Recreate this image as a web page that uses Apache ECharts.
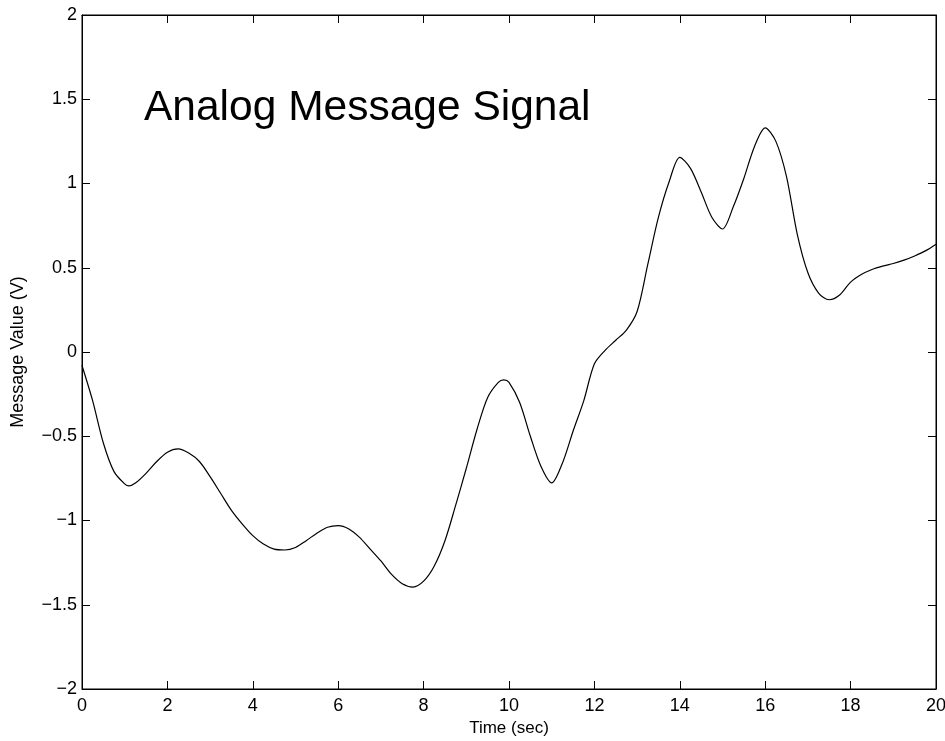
<!DOCTYPE html>
<html>
<head>
<meta charset="utf-8">
<script src="https://cdn.jsdelivr.net/npm/echarts@6/dist/echarts.min.js"></script>
<style>
html,body{margin:0;padding:0;background:#fff;overflow:hidden;}
#chart{width:945px;height:741px;}
</style>
</head>
<body>
<div id="chart"></div>
<script>
var titleText = "Analog Message Signal";
var xAxisName = "Time (sec)";
var yAxisName = "Message Value (V)";

var timeSec = [0,0.25,0.5,0.75,1,1.1,1.25,1.5,1.75,2,2.25,2.5,2.75,3,3.25,3.5,3.75,4,4.25,4.5,4.75,
  5,5.25,5.5,5.75,6,6.25,6.5,6.75,7,7.25,7.5,7.75,8,8.25,8.5,8.75,9,9.25,9.5,9.75,9.88,
  10,10.25,10.5,10.75,11,11.25,11.5,11.75,12,12.25,12.5,12.75,13,13.25,13.5,13.75,14,14.25,14.5,14.75,
  15,15.25,15.5,15.75,16,16.25,16.5,16.75,17,17.25,17.5,17.75,18,18.25,18.5,18.75,19,19.25,19.5,19.75,20];
var messageV = [-0.08,-0.29,-0.54,-0.71,-0.783,-0.795,-0.778,-0.72,-0.65,-0.595,-0.575,-0.60,-0.65,-0.74,-0.84,-0.94,-1.02,-1.09,-1.14,-1.17,-1.175,
  -1.16,-1.12,-1.075,-1.04,-1.03,-1.05,-1.10,-1.17,-1.24,-1.32,-1.375,-1.395,-1.36,-1.27,-1.12,-0.91,-0.69,-0.46,-0.27,-0.18,-0.166,
  -0.18,-0.30,-0.50,-0.68,-0.777,-0.66,-0.47,-0.29,-0.07,0.01,0.07,0.13,0.24,0.52,0.80,1.01,1.155,1.09,0.95,0.80,
  0.73,0.86,1.03,1.22,1.33,1.25,1.04,0.70,0.47,0.35,0.31,0.34,0.415,0.46,0.49,0.51,0.525,0.545,0.57,0.60,0.64];

var seriesData = timeSec.map(function(t, i){ return [t, messageV[i]]; });

function fmt(v){
  var s = String(Math.round(v*100)/100);
  return s.replace('-', '\u2212');
}

var font = 'Liberation Sans, Arial, Helvetica, sans-serif';
var chart = echarts.init(document.getElementById('chart'));
var tickStyle = {show:true, inside:true, length:8, lineStyle:{color:'#000', width:1}};
chart.setOption({
  animation:false,
  backgroundColor:'#fff',
  title:{
    text:titleText, left:139, top:82,
    textStyle:{fontFamily:font, fontSize:42.5, fontWeight:'normal', color:'#000'}
  },
  grid:{left:82, right:9, top:15, bottom:52, containLabel:false, outerBoundsMode:'none',
    show:true, borderColor:'#000', borderWidth:1, backgroundColor:'transparent'},
  xAxis:[{
    type:'value', min:0, max:20, interval:2, position:'bottom',
    name:xAxisName, nameLocation:'middle', nameGap:24,
    nameTextStyle:{fontFamily:font, fontSize:17, color:'#000'},
    axisLine:{show:true, onZero:false, lineStyle:{color:'#000', width:1}},
    axisTick:tickStyle,
    axisLabel:{fontFamily:font, fontSize:18, color:'#000', margin:8, formatter:fmt, showMaxLabel:true},
    splitLine:{show:false}
  },{
    type:'value', min:0, max:20, interval:2, position:'top',
    axisLine:{show:true, onZero:false, lineStyle:{color:'#000', width:1}},
    axisTick:tickStyle, axisLabel:{show:false}, splitLine:{show:false}
  }],
  yAxis:[{
    type:'value', min:-2, max:2, interval:0.5, position:'left',
    name:yAxisName, nameLocation:'middle', nameGap:55,
    nameTextStyle:{fontFamily:font, fontSize:18, color:'#000'},
    axisLine:{show:true, onZero:false, lineStyle:{color:'#000', width:1}},
    axisTick:tickStyle,
    axisLabel:{fontFamily:font, fontSize:18, color:'#000', margin:5, formatter:fmt},
    splitLine:{show:false}
  },{
    type:'value', min:-2, max:2, interval:0.5, position:'right',
    axisLine:{show:true, onZero:false, lineStyle:{color:'#000', width:1}},
    axisTick:tickStyle, axisLabel:{show:false}, splitLine:{show:false}
  }],
  series:[{
    type:'line', data:seriesData, xAxisIndex:0, yAxisIndex:0,
    showSymbol:false, smooth:0.3,
    lineStyle:{color:'#000', width:1.2},
    clip:true
  }]
});
</script>
</body>
</html>
